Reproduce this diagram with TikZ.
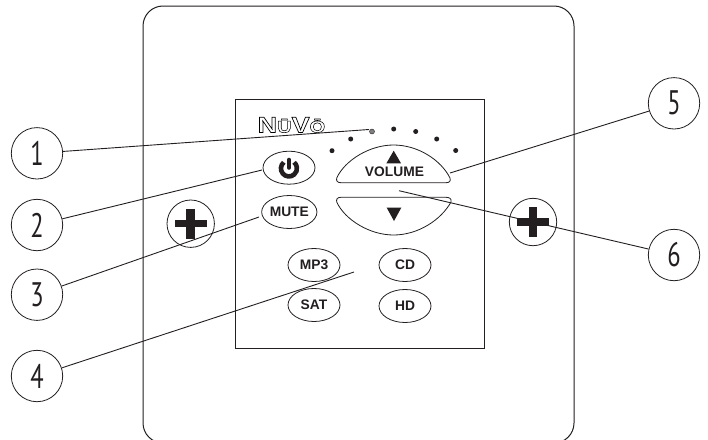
\documentclass[tikz,border=0pt]{standalone}
\usepackage{fontspec}
\usepackage{tikz}
\usetikzlibrary{shapes.geometric,positioning}
\setmainfont{Liberation Sans}
\newfontfamily\numfont[FakeStretch=0.72]{PT Sans}
\newfontfamily\logofont[FakeStretch=1.22,FakeBold=3.2]{Liberation Sans Bold}
\definecolor{inkcolor}{RGB}{35, 31, 32}

\begin{document}
\begin{tikzpicture}[
    x=1pt, y=-1pt,
    line width=1pt, draw=inkcolor,
    numcircle/.style={circle, draw, line width=0.8pt, inner sep=0pt, minimum size=51.4pt, text=inkcolor, font=\numfont\fontsize{34}{34}\selectfont},
    screw/.style={circle, draw, line width=0.8pt, inner sep=0pt, minimum size=47.4pt},
    btn/.style={ellipse, draw, line width=0.8pt, inner sep=0pt, minimum width=52pt, minimum height=33pt, text=inkcolor, font=\bfseries\fontsize{13.8}{14}\selectfont},
    led/.style={circle, fill=inkcolor, inner sep=0pt, minimum size=5pt},
    leader/.style={line width=0.9pt},
]
    \useasboundingbox (0,0) rectangle (708,439);

    % Plate
    \draw[rounded corners=20pt] (143,6) rectangle (574,443);
    \draw (235,99) rectangle (484,348);

    % Logo
    \node[inner sep=0pt, font=\logofont\fontsize{22}{22}\selectfont] (logo) at (291.5,125) {\special{pdf:bcolor [1] [0]}N{\fontsize{16.5}{16.5}\selectfont Ū}V{\fontsize{16.5}{16.5}\selectfont Ō}\special{pdf:ecolor}};

    % LEDs
    \node[led] (led1) at (332,150.7) {};
    \node[led] (led2) at (350.7,139) {};
    \node[led, fill=gray, draw=inkcolor, line width=0.4pt] (led3) at (372,131.5) {};
    \node[led] (led4) at (393.7,129) {};
    \node[led] (led5) at (415.7,131.5) {};
    \node[led] (led6) at (436.7,139) {};
    \node[led] (led7) at (455.7,150.5) {};

    % Buttons
    \node[btn] (power) at (289,167.7) {};
    \node[btn] (mute) at (289.3,212) {MUTE};
    \node[btn] (mp3) at (314,265) {MP3};
    \node[btn] (sat) at (314,305) {SAT};
    \node[btn] (cd) at (405,265) {CD};
    \node[btn] (hd) at (405,306) {HD};

    % Power icon
    \draw[line width=4.6pt] (283.8,162.3) arc[start angle=130, end angle=410, radius=8pt];
    \draw[line width=4.6pt, line cap=round] (289,160) -- (289,167.5);

    % Volume keys
    \draw[line width=0.8pt] (336.7,178) .. controls (345,160) and (370,145) .. (393.5,145)
        .. controls (418,145) and (441,160) .. (450,178)
        .. controls (451,181.5) and (449,182.7) .. (446,182.7)
        -- (341,182.7) .. controls (337.5,182.7) and (336,181) .. (336.7,178) -- cycle;
    \draw[line width=0.8pt] (336.7,202) .. controls (345,220) and (370,235) .. (393.5,235)
        .. controls (418,235) and (441,220) .. (451,202)
        .. controls (452,198.5) and (449,197.3) .. (446,197.3)
        -- (341,197.3) .. controls (337.5,197.3) and (336,199) .. (336.7,202) -- cycle;
    \fill[inkcolor] (393.7,150.7) -- (401,163.3) -- (386.4,163.3) -- cycle;
    \fill[inkcolor] (394,221) -- (401.3,207.7) -- (386.7,207.7) -- cycle;
    \node[text=inkcolor, font=\bfseries\fontsize{13.8}{14}\selectfont] (volume) at (394.5,171.5) {VOLUME};

    % Screws
    \node[screw] (screwL) at (190.7,223.7) {};
    \node[screw] (screwR) at (533,222) {};
    \foreach \c in {screwL,screwR} {
        \fill[inkcolor] ([xshift=-16pt,yshift=-3.7pt]\c.center) rectangle ([xshift=16pt,yshift=3.7pt]\c.center);
        \fill[inkcolor] ([xshift=-4.3pt,yshift=-15pt]\c.center) rectangle ([xshift=4.3pt,yshift=15pt]\c.center);
    }

    % Callouts
    \node[numcircle] (num1) at (37,153.3) {1};
    \node[numcircle] (num2) at (37,225) {2};
    \node[numcircle] (num3) at (37,294.7) {3};
    \node[numcircle] (num4) at (37,376) {4};
    \node[numcircle] (num5) at (674,103.3) {5};
    \node[numcircle] (num6) at (674,255) {6};

    \coordinate (tip1) at (369,129.5);
    \coordinate (tip2) at (262,170);
    \coordinate (tip3) at (259,217);
    \coordinate (tip4) at (354,272);
    \coordinate (tip5) at (450,173);
    \coordinate (tip6) at (399,190.7);

    \draw[leader] (num1) -- (tip1);
    \draw[leader] (num2) -- (tip2);
    \draw[leader] (num3) -- (tip3);
    \draw[leader] (num4) -- (tip4);
    \draw[leader] (num5) -- (tip5);
    \draw[leader] (num6) -- (tip6);
\end{tikzpicture}
\end{document}
